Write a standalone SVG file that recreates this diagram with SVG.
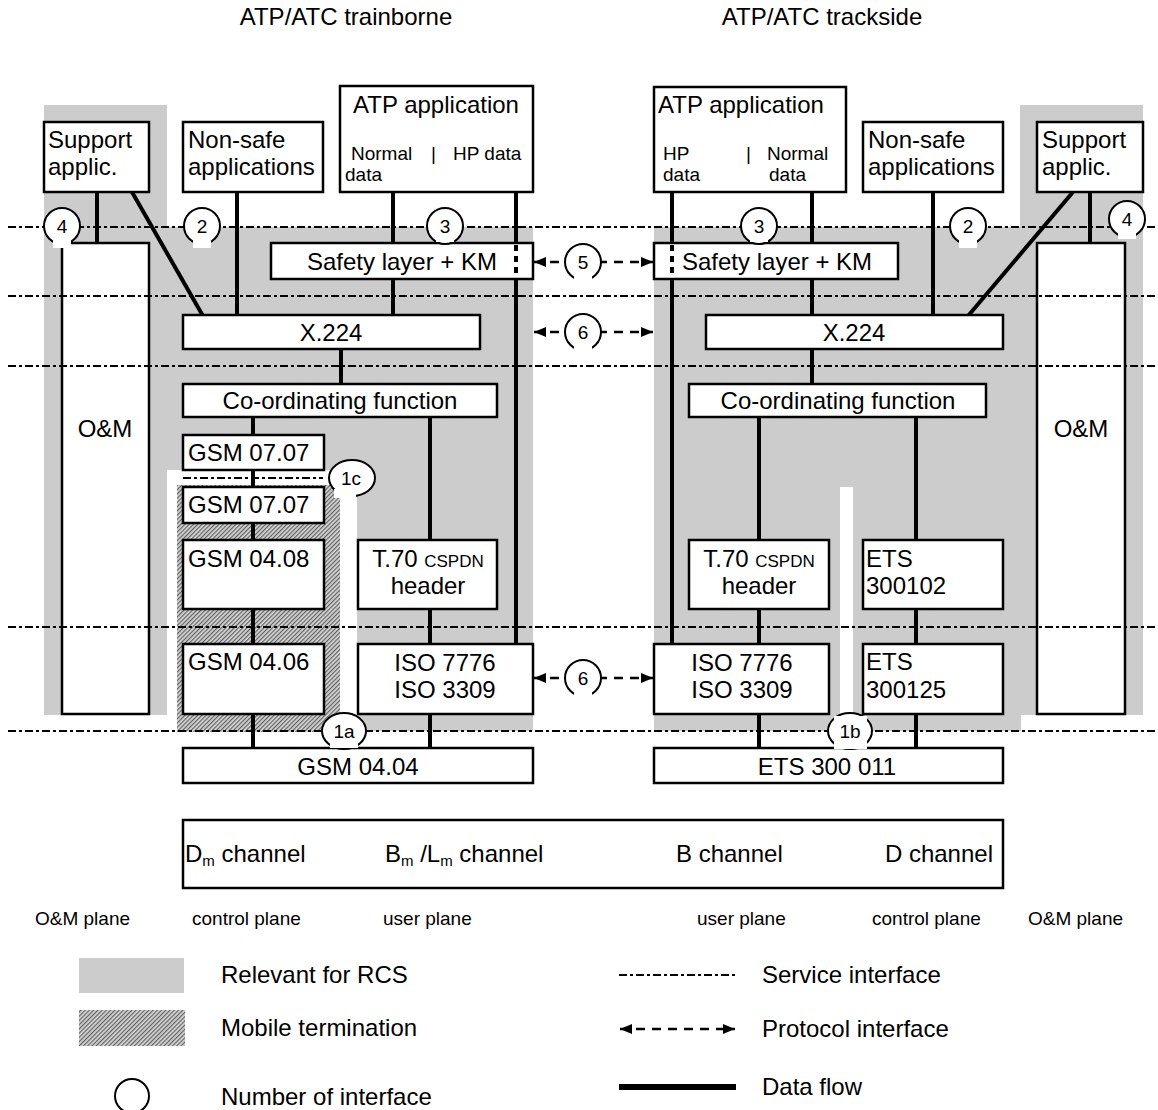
<svg xmlns="http://www.w3.org/2000/svg" width="1158" height="1110" viewBox="0 0 1158 1110">
<defs>
<style>
.box{fill:#fff;stroke:#000;stroke-width:2.5}
.t{font-family:"Liberation Sans",Arial,sans-serif;font-size:24px;fill:#000}
.s{font-family:"Liberation Sans",Arial,sans-serif;font-size:19px;fill:#000}
.m{text-anchor:middle}
.flow{stroke:#000;stroke-width:4;fill:none}
.svc{stroke:#000;stroke-width:2.2;stroke-dasharray:8 3 3 3;fill:none}
.proto{stroke:#000;stroke-width:2.5;stroke-dasharray:9 7;fill:none}
.ifc{fill:#fff;stroke:#000;stroke-width:2}
.grey{fill:#cccccc}
</style>
<pattern id="hatch" width="3" height="3" patternUnits="userSpaceOnUse" patternTransform="rotate(45)">
<rect width="3" height="3" fill="#d4d4d4"/>
<line x1="0.6" y1="0" x2="0.6" y2="3" stroke="#5a5a5a" stroke-width="1.1"/>
</pattern>
<marker id="ah" viewBox="0 0 12 10" refX="12" refY="5" markerWidth="12" markerHeight="10" markerUnits="userSpaceOnUse" orient="auto-start-reverse">
<path d="M0,0 L12,5 L0,10 z" fill="#000"/>
</marker>
</defs>
<rect width="1158" height="1110" fill="#fff"/>

<g id="titles">
<text class="t m" x="346" y="25">ATP/ATC trainborne</text>
<text class="t m" x="822" y="25">ATP/ATC trackside</text>
</g>

<g id="regions">
<rect class="grey" x="44" y="105" width="123" height="610"/>
<rect class="grey" x="167" y="227" width="366" height="504"/>
<rect x="167" y="470" width="190" height="263" fill="#fff"/>
<rect x="177" y="485" width="163" height="247" fill="url(#hatch)"/>
<rect class="grey" x="1020" y="105" width="123" height="610"/>
<rect class="grey" x="654" y="227" width="367" height="504"/>
<rect x="840" y="487" width="13" height="244" fill="#fff"/>
</g>

<g id="connectors">
<line class="flow" x1="97" y1="192" x2="97" y2="243"/>
<line class="flow" x1="132" y1="192" x2="203" y2="316"/>
<line class="flow" x1="237" y1="192" x2="237" y2="316"/>
<line class="flow" x1="393" y1="192" x2="393" y2="316"/>
<line class="flow" x1="516" y1="192" x2="516" y2="644"/>
<line class="flow" x1="341" y1="349" x2="341" y2="384"/>
<line class="flow" x1="253" y1="417" x2="253" y2="748"/>
<line class="flow" x1="430" y1="417" x2="430" y2="748"/>
<line class="flow" x1="1090" y1="192" x2="1090" y2="243"/>
<line class="flow" x1="1073" y1="192" x2="968" y2="316"/>
<line class="flow" x1="933" y1="192" x2="933" y2="316"/>
<line class="flow" x1="812" y1="192" x2="812" y2="384"/>
<line class="flow" x1="672" y1="192" x2="672" y2="644"/>
<line class="flow" x1="759" y1="417" x2="759" y2="748"/>
<line class="flow" x1="916" y1="417" x2="916" y2="748"/>
</g>

<g id="node-support-l"><rect class="box" x="44" y="122" width="105" height="70"/><text class="t" x="48" y="148">Support</text><text class="t" x="48" y="175">applic.</text></g>
<g id="node-nonsafe-l"><rect class="box" x="183" y="122" width="140" height="70"/><text class="t" x="188" y="148">Non-safe</text><text class="t" x="188" y="175">applications</text></g>
<g id="node-atp-l"><rect class="box" x="340" y="86" width="193" height="106"/><text class="t m" x="436" y="113">ATP application</text><text class="s" x="351" y="160">Normal</text><text class="s" x="431" y="160">|</text><text class="s" x="453" y="160">HP data</text><text class="s" x="345" y="181">data</text></g>
<g id="node-om-l"><rect class="box" x="62" y="243" width="87" height="471"/><text class="t m" x="105" y="437">O&amp;M</text></g>
<g id="node-safety-l"><rect class="box" x="271" y="243" width="262" height="36"/><text class="t m" x="402" y="270">Safety layer + KM</text></g>
<g id="node-x224-l"><rect class="box" x="183" y="315" width="297" height="34"/><text class="t m" x="331" y="341">X.224</text></g>
<g id="node-coord-l"><rect class="box" x="183" y="384" width="314" height="33"/><text class="t m" x="340" y="409">Co-ordinating function</text></g>
<g id="node-gsm0707a"><rect class="box" x="183" y="435" width="141" height="35"/><text class="t" x="188" y="461">GSM 07.07</text></g>
<g id="node-gsm0707b"><rect class="box" x="183" y="487" width="141" height="36"/><text class="t" x="188" y="513">GSM 07.07</text></g>
<g id="node-gsm0408"><rect class="box" x="183" y="540" width="141" height="69"/><text class="t" x="188" y="567">GSM 04.08</text></g>
<g id="node-t70-l"><rect class="box" x="358" y="540" width="139" height="69"/><text class="t m" x="428" y="567">T.70 <tspan style="font-size:17px">CSPDN</tspan></text><text class="t m" x="428" y="594">header</text></g>
<g id="node-gsm0406"><rect class="box" x="183" y="644" width="141" height="70"/><text class="t" x="188" y="670">GSM 04.06</text></g>
<g id="node-iso-l"><rect class="box" x="358" y="644" width="175" height="70"/><text class="t m" x="445" y="671">ISO 7776</text><text class="t m" x="445" y="698">ISO 3309</text></g>
<g id="node-gsm0404"><rect class="box" x="183" y="748" width="350" height="35"/><text class="t m" x="358" y="775">GSM 04.04</text></g>

<g id="node-atp-r"><rect class="box" x="654" y="87" width="192" height="105"/><text class="t" x="658" y="113">ATP application</text><text class="s" x="663" y="160">HP</text><text class="s" x="663" y="181">data</text><text class="s" x="746" y="160">|</text><text class="s" x="767" y="160">Normal</text><text class="s" x="769" y="181">data</text></g>
<g id="node-nonsafe-r"><rect class="box" x="863" y="122" width="140" height="70"/><text class="t" x="868" y="148">Non-safe</text><text class="t" x="868" y="175">applications</text></g>
<g id="node-support-r"><rect class="box" x="1037" y="122" width="106" height="70"/><text class="t" x="1042" y="148">Support</text><text class="t" x="1042" y="175">applic.</text></g>
<g id="node-om-r"><rect class="box" x="1037" y="243" width="88" height="471"/><text class="t m" x="1081" y="437">O&amp;M</text></g>
<g id="node-safety-r"><rect class="box" x="654" y="243" width="244" height="36"/><text class="t" x="682" y="270">Safety layer + KM</text></g>
<g id="node-x224-r"><rect class="box" x="706" y="315" width="297" height="34"/><text class="t m" x="854" y="341">X.224</text></g>
<g id="node-coord-r"><rect class="box" x="689" y="384" width="297" height="33"/><text class="t m" x="838" y="409">Co-ordinating function</text></g>
<g id="node-t70-r"><rect class="box" x="689" y="540" width="140" height="69"/><text class="t m" x="759" y="567">T.70 <tspan style="font-size:17px">CSPDN</tspan></text><text class="t m" x="759" y="594">header</text></g>
<g id="node-ets300102"><rect class="box" x="863" y="540" width="140" height="69"/><text class="t" x="866" y="567">ETS</text><text class="t" x="866" y="594">300102</text></g>
<g id="node-iso-r"><rect class="box" x="654" y="644" width="175" height="70"/><text class="t m" x="742" y="671">ISO 7776</text><text class="t m" x="742" y="698">ISO 3309</text></g>
<g id="node-ets300125"><rect class="box" x="863" y="644" width="140" height="70"/><text class="t" x="866" y="670">ETS</text><text class="t" x="866" y="698">300125</text></g>
<g id="node-ets300011"><rect class="box" x="654" y="748" width="349" height="35"/><text class="t m" x="827" y="775">ETS 300 011</text></g>

<g id="hp-dotted">
<line x1="516" y1="245" x2="516" y2="278" stroke="#000" stroke-width="4" stroke-dasharray="6 5"/>
<line x1="672" y1="245" x2="672" y2="278" stroke="#000" stroke-width="4" stroke-dasharray="6 5"/>
</g>

<g id="service-interfaces">
<line class="svc" x1="8" y1="227" x2="1158" y2="227"/>
<line class="svc" x1="8" y1="296" x2="1158" y2="296"/>
<line class="svc" x1="8" y1="366" x2="1158" y2="366"/>
<line class="svc" x1="8" y1="627" x2="1158" y2="627"/>
<line class="svc" x1="8" y1="731" x2="1158" y2="731"/>
<line class="svc" x1="183" y1="478" x2="323" y2="478"/>
</g>

<g id="protocol-interfaces">
<line class="proto" x1="534" y1="262" x2="653" y2="262" marker-start="url(#ah)" marker-end="url(#ah)"/>
<line class="proto" x1="534" y1="332" x2="653" y2="332" marker-start="url(#ah)" marker-end="url(#ah)"/>
<line class="proto" x1="534" y1="678" x2="653" y2="678" marker-start="url(#ah)" marker-end="url(#ah)"/>
</g>

<g id="interfaces">
<g id="if4l"><circle class="ifc" cx="62" cy="226" r="18"/><rect x="53" y="237" width="18" height="11" fill="#fff"/><text class="s m" x="62" y="233">4</text></g>
<g id="if2l"><circle class="ifc" cx="202" cy="226" r="18"/><rect x="193" y="237" width="18" height="11" fill="#fff"/><text class="s m" x="202" y="233">2</text></g>
<g id="if3l"><circle class="ifc" cx="445" cy="226" r="18"/><rect x="436" y="237" width="18" height="5" fill="#fff"/><text class="s m" x="445" y="233">3</text></g>
<g id="if5"><circle class="ifc" cx="583" cy="262" r="18"/><rect x="574" y="273" width="18" height="9" fill="#fff"/><text class="s m" x="583" y="269">5</text></g>
<g id="if6a"><circle class="ifc" cx="583" cy="332" r="18"/><rect x="574" y="343" width="18" height="9" fill="#fff"/><text class="s m" x="583" y="339">6</text></g>
<g id="if6b"><circle class="ifc" cx="583" cy="678" r="18"/><rect x="574" y="689" width="18" height="9" fill="#fff"/><text class="s m" x="583" y="685">6</text></g>
<g id="if3r"><circle class="ifc" cx="759" cy="226" r="18"/><rect x="750" y="237" width="18" height="5" fill="#fff"/><text class="s m" x="759" y="233">3</text></g>
<g id="if2r"><circle class="ifc" cx="968" cy="226" r="18"/><rect x="959" y="237" width="18" height="11" fill="#fff"/><text class="s m" x="968" y="233">2</text></g>
<g id="if4r"><circle class="ifc" cx="1127" cy="219" r="18"/><rect x="1118" y="231" width="18" height="8" fill="#fff"/><text class="s m" x="1127" y="226">4</text></g>
<g id="if1c"><ellipse class="ifc" cx="352" cy="478" rx="23" ry="18"/><rect x="334" y="489" width="22" height="9" fill="#fff"/><text class="s m" x="351" y="485">1c</text></g>
<g id="if1a"><ellipse class="ifc" cx="344" cy="731" rx="22" ry="18"/><rect x="330" y="739" width="28" height="9" fill="#fff"/><text class="s m" x="344" y="738">1a</text></g>
<g id="if1b"><ellipse class="ifc" cx="850" cy="731" rx="22" ry="18"/><rect x="834" y="716" width="33" height="33" fill="#fff"/><text class="s m" x="850" y="738">1b</text></g>
</g>

<g id="channels">
<rect class="box" x="183" y="820" width="820" height="68"/>
<text class="t" x="185" y="862">D<tspan style="font-size:15px" dy="4">m</tspan><tspan dy="-4"> channel</tspan></text>
<text class="t" x="385" y="862">B<tspan style="font-size:15px" dy="4">m</tspan><tspan dy="-4"> /L</tspan><tspan style="font-size:15px" dy="4">m</tspan><tspan dy="-4"> channel</tspan></text>
<text class="t" x="676" y="862">B channel</text>
<text class="t" x="993" y="862" text-anchor="end">D channel</text>
</g>

<g id="planes">
<text class="s" x="35" y="925">O&amp;M plane</text>
<text class="s" x="192" y="925">control plane</text>
<text class="s" x="383" y="925">user plane</text>
<text class="s" x="697" y="925">user plane</text>
<text class="s" x="872" y="925">control plane</text>
<text class="s" x="1028" y="925">O&amp;M plane</text>
</g>

<g id="legend">
<rect class="grey" x="79" y="958" width="105" height="35"/>
<rect x="79" y="1010" width="106" height="36" fill="url(#hatch)"/>
<circle class="ifc" cx="132" cy="1096" r="17"/>
<text class="t" x="221" y="983">Relevant for RCS</text>
<text class="t" x="221" y="1036">Mobile termination</text>
<text class="t" x="221" y="1105">Number of interface</text>
<line class="svc" x1="619" y1="975" x2="736" y2="975"/>
<line class="proto" x1="620" y1="1029" x2="735" y2="1029" marker-start="url(#ah)" marker-end="url(#ah)"/>
<line x1="619" y1="1087" x2="736" y2="1087" stroke="#000" stroke-width="6"/>
<text class="t" x="762" y="983">Service interface</text>
<text class="t" x="762" y="1037">Protocol interface</text>
<text class="t" x="762" y="1095">Data flow</text>
</g>
</svg>
